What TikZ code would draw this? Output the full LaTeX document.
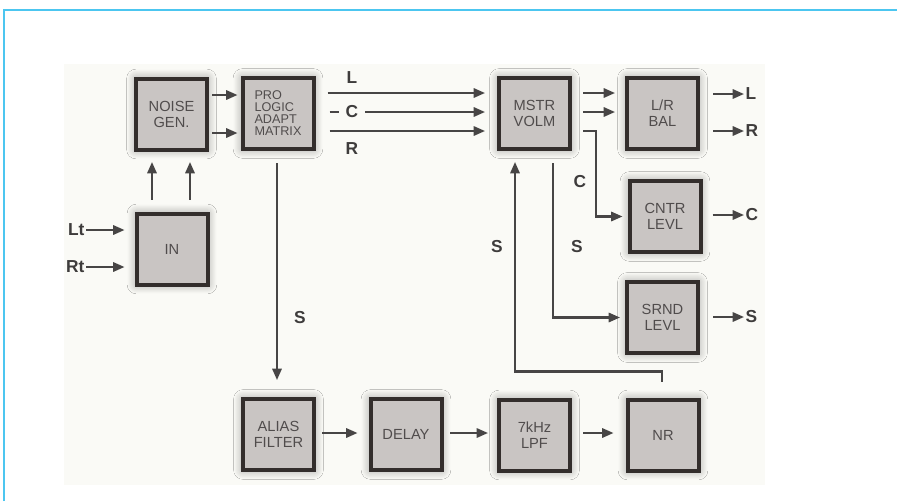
\documentclass[tikz,border=0pt]{standalone}
\usepackage{fontspec}
\setmainfont{Liberation Sans}
\usetikzlibrary{arrows.meta,calc,shadows.blur}
\definecolor{bfill}{HTML}{C9C5C3}
\definecolor{bline}{HTML}{332E2C}
\definecolor{btext}{HTML}{504C4C}
\definecolor{aline}{HTML}{474545}
\definecolor{ltext}{HTML}{3E3C3C}
\definecolor{bgpanel}{HTML}{FAFAF6}
\definecolor{frameblue}{HTML}{4CC6F0}
\begin{document}
\begin{tikzpicture}[x=0.75pt,y=-0.75pt,
  box/.style={draw=bline, line width=3pt, fill=bfill, minimum size=53.25pt, inner sep=0pt,
    font=\fontsize{11}{12}\selectfont, text=btext, align=center,
    blur shadow={shadow xshift=0pt, shadow yshift=0pt, shadow blur radius=7pt, shadow blur steps=12, shadow opacity=40, shadow scale=1}},
  arr/.style={draw=aline, line width=1.6pt, -{Triangle[length=8.5pt,width=7pt]}},
  lab/.style={font=\fontsize{13}{13}\selectfont\bfseries, text=ltext, inner sep=1pt}
]
\useasboundingbox (0,0) rectangle (897,501);
\fill[white] (0,0) rectangle (897,501);
\fill[bgpanel] (64,64) rectangle (765,485);
\draw[frameblue, line width=1.5pt] (4,501) -- (4,10) -- (897,10);

% blocks
\node[box] (noise) at (171.5,114) {NOISE\\GEN.};
\node[box, align=left, font=\fontsize{9.5}{9}\selectfont] (pro) at (278,113.5) {PRO\\LOGIC\\ADAPT\\MATRIX};
\node[box] (mstr) at (534.5,113.5) {MSTR\\VOLM};
\node[box] (bal) at (662.5,113.5) {L/R\\BAL};
\node[box] (cntr) at (665,216.5) {CNTR\\LEVL};
\node[box] (srnd) at (662.5,317.5) {SRND\\LEVL};
\node[box] (in) at (172,249) {IN};
\node[box] (alias) at (278.5,434.5) {ALIAS\\FILTER};
\node[box] (delay) at (406,434.5) {DELAY};
\node[box] (lpf) at (534.5,435) {7kHz\\LPF};
\node[box] (nr) at (663,435) {NR};

% inputs
\node[lab, anchor=east] (lt) at (86,230) {Lt};
\node[lab, anchor=east] (rt) at (86,267) {Rt};
\draw[arr] (lt.east) -- ($(in.west)+(-10,-19)$);
\draw[arr] (rt.east) -- ($(in.west)+(-10,18)$);

% IN -> NOISE
\draw[arr] ($(in.north)+(-20,-12)$) -- ($(noise.south)+(-19.5,10.5)$);
\draw[arr] ($(in.north)+(18,-12)$) -- ($(noise.south)+(18.5,10.5)$);

% NOISE -> PRO
\draw[arr] ($(noise.east)+(3,-19)$) -- ($(pro.west)+(-3,-18.5)$);
\draw[arr] ($(noise.east)+(3,19)$) -- ($(pro.west)+(-3,19.5)$);

% PRO -> MSTR (L, C, R)
\draw[arr] ($(pro.east)+(12,-20.5)$) -- ($(mstr.west)+(-12,-20.5)$);
\draw[arr] ($(pro.east)+(14,-1.5)$) -- ($(mstr.west)+(-12,-1.5)$);
\draw[arr] ($(pro.east)+(14,17.5)$) -- ($(mstr.west)+(-12,17.5)$);
\node[lab] (labL) at (352,78) {L};
\node[lab, fill=bgpanel, inner xsep=5pt] (labC) at (352,112) {C};
\node[lab] (labR) at (352,149) {R};

% MSTR -> BAL
\draw[arr] ($(mstr.east)+(11,-20.5)$) -- ($(bal.west)+(-10,-20.5)$);
\draw[arr] ($(mstr.east)+(11,-1.5)$) -- ($(bal.west)+(-10,-1.5)$);

% MSTR -> CNTR
\draw[arr] ($(mstr.east)+(11,17.5)$) -- ++(13,0) |- ($(cntr.west)+(-5,0)$);
\node[lab] (labC2) at (580,182) {C};

% MSTR -> SRND
\draw[arr] ($(mstr.south)+(18.5,12)$) |- ($(srnd.west)+(-5,0)$);
\node[lab] (labS2) at (577,247) {S};

% NR -> MSTR (feedback)
\draw[arr] ($(nr.north)+(-1,-16)$) -- ++(0,-10) -| ($(mstr.south)+(-19.5,11)$);
\node[lab] (labS3) at (497,247) {S};

% outputs
\node[lab, anchor=west] (outL) at (744,94) {L};
\node[lab, anchor=west] (outR) at (744,131) {R};
\node[lab, anchor=west] (outC) at (744,215) {C};
\node[lab, anchor=west] (outS) at (744,317) {S};
\draw[arr] ($(bal.east)+(13,-19.5)$) -- (outL.west);
\draw[arr] ($(bal.east)+(13,17.5)$) -- (outR.west);
\draw[arr] ($(cntr.east)+(10,-1.5)$) -- (outC.west);
\draw[arr] ($(srnd.east)+(13,-0.5)$) -- (outS.west);

% PRO -> ALIAS
\draw[arr] ($(pro.south)+(-1,12)$) -- ($(alias.north)+(-1.5,-17)$);
\node[lab] (labS1) at (300,318) {S};

% bottom chain
\draw[arr] ($(alias.east)+(6,-1.5)$) -- ($(delay.west)+(-11,-1.5)$);
\draw[arr] ($(delay.east)+(6.5,-1.5)$) -- ($(lpf.west)+(-9,-2)$);
\draw[arr] ($(lpf.east)+(11,-2)$) -- ($(nr.west)+(-12,-2)$);
\end{tikzpicture}
\end{document}
